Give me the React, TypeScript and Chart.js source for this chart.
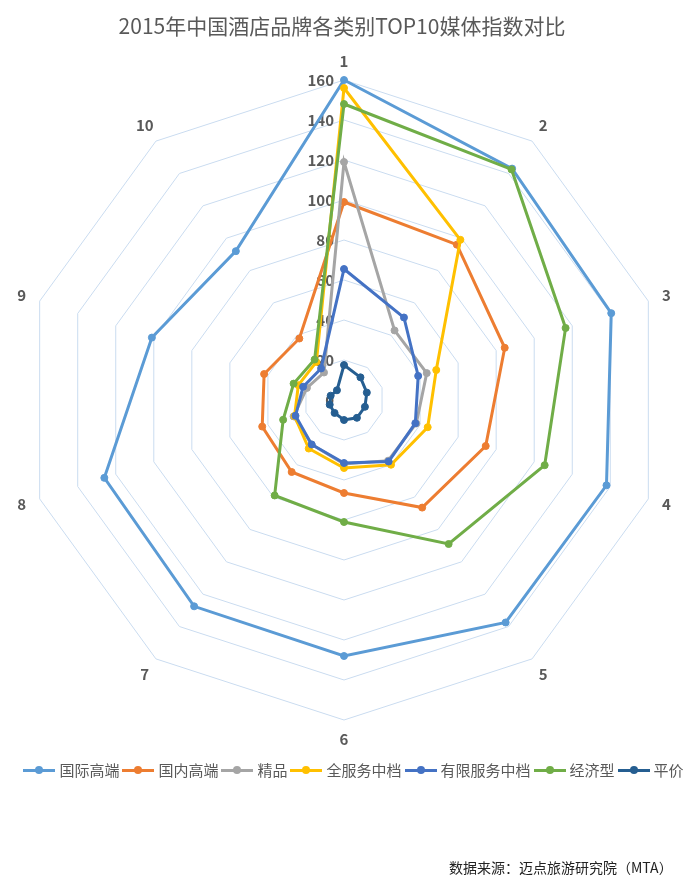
import React, { useEffect, useRef } from 'react';
import { Chart, ChartConfiguration, registerables } from 'chart.js';

Chart.register(...registerables);

const FONT = '"Noto Sans CJK SC", "Noto Sans", sans-serif';

const titleText = '2015年中国酒店品牌各类别TOP10媒体指数对比';
const sourceText = '数据来源：迈点旅游研究院（MTA）';

const categories = ['1', '2', '3', '4', '5', '6', '7', '8', '9', '10'];
const tickValues = [0, 20, 40, 60, 80, 100, 120, 140, 160];

const seriesNames = ['国际高端', '国内高端', '精品', '全服务中档', '有限服务中档', '经济型', '平价'];
const seriesColors = ['#5B9BD5', '#ED7D31', '#A5A5A5', '#FFC000', '#4472C4', '#70AD47', '#255E91'];

const intlHigh = [160, 143, 140.5, 138, 137.5, 128, 127.5, 126, 101, 92];
const domesticHigh = [99, 96, 84.5, 74.5, 66.5, 46.5, 44.5, 43, 42, 38];
const boutique = [119, 43, 43.5, 38, 37.5, 32, 27.5, 26.5, 19.5, 17];
const fullServiceMid = [156, 99, 48.5, 44, 40, 34, 30, 26, 24, 23.5];
const limitedServiceMid = [65.5, 51, 39, 37.5, 38, 31.5, 27.5, 25.5, 21.5, 19.5];
const economy = [148, 142.5, 116.5, 105.5, 89, 61, 59, 32, 26.5, 25];
const budget = [17.5, 14, 12, 11, 11, 10, 8, 7.5, 7, 6];

const seriesValues = [intlHigh, domesticHigh, boutique, fullServiceMid, limitedServiceMid, economy, budget];

// tick numbers left of the vertical axis and the spoke numbers, drawn under the lines
const radarLabels = {
  id: 'radarLabels',
  beforeDatasetsDraw(chart: Chart) {
    const scale: any = chart.scales.r;
    const ctx = chart.ctx;
    ctx.save();
    ctx.fillStyle = '#595959';
    ctx.font = `bold 15px ${FONT}`;
    ctx.textBaseline = 'middle';
    ctx.textAlign = 'right';
    tickValues.forEach(v => {
      const d = scale.getDistanceFromCenterForValue(v);
      ctx.fillText(String(v), scale.xCenter - 10, scale.yCenter - d);
    });
    ctx.textAlign = 'center';
    categories.forEach((c, i) => {
      const p = scale.getPointPosition(i, scale.drawingArea + 19);
      ctx.fillText(c, p.x, p.y);
    });
    ctx.restore();
  }
};

const App: React.FC = () => {
  const chartRef = useRef<HTMLCanvasElement>(null);
  const chartInstanceRef = useRef<Chart | null>(null);

  useEffect(() => {
    if (!chartRef.current) return;
    const ctx = chartRef.current.getContext('2d');
    if (!ctx) return;

    Chart.defaults.font.family = FONT;

    const config: ChartConfiguration = {
      type: 'radar',
      data: {
        labels: categories,
        datasets: seriesNames.map((name, i) => ({
          label: name,
          data: seriesValues[i],
          borderColor: seriesColors[i],
          backgroundColor: seriesColors[i],
          pointBackgroundColor: seriesColors[i],
          pointBorderColor: seriesColors[i],
          pointRadius: 3.5,
          pointBorderWidth: 1,
          borderWidth: 3,
          fill: false,
          order: seriesNames.length - i
        }))
      },
      options: {
        responsive: true,
        maintainAspectRatio: false,
        animation: false,
        layout: {
          padding: { left: 24, top: 80, right: 36, bottom: 167 }
        },
        plugins: {
          legend: { display: false },
          title: { display: false },
          tooltip: { enabled: false }
        },
        scales: {
          r: {
            min: 0,
            max: 160,
            ticks: { stepSize: 20, display: false },
            pointLabels: { display: false },
            angleLines: { display: false },
            grid: { color: '#cadcf0', lineWidth: 1, circular: false }
          }
        }
      },
      plugins: [radarLabels]
    };

    chartInstanceRef.current = new Chart(ctx, config);

    return () => {
      if (chartInstanceRef.current) {
        chartInstanceRef.current.destroy();
        chartInstanceRef.current = null;
      }
    };
  }, []);

  return (
    <div style={{ position: 'absolute', left: 0, top: 0, width: 700, height: 887, background: '#fff', fontFamily: FONT }}>
      <canvas ref={chartRef} />
      <div style={{ position: 'absolute', left: 0, top: 10, width: 684, textAlign: 'center', fontSize: 21, color: '#595959', lineHeight: '30px' }}>
        {titleText}
      </div>
      <div style={{ position: 'absolute', left: 0, top: 760, width: 707, display: 'flex', justifyContent: 'center', fontSize: 15, color: '#595959', lineHeight: '20px' }}>
        {seriesNames.map((name, i) => (
          <div key={name} style={{ display: 'flex', alignItems: 'center', marginRight: i < seriesNames.length - 1 ? 3 : 0 }}>
            <span style={{ position: 'relative', display: 'inline-block', width: 32, height: 3, background: seriesColors[i], marginRight: 4 }}>
              <span style={{ position: 'absolute', left: 12, top: -2.5, width: 8, height: 8, borderRadius: 4, background: seriesColors[i] }} />
            </span>
            <span>{name}</span>
          </div>
        ))}
      </div>
      <div style={{ position: 'absolute', left: 449, top: 857, fontSize: 14, color: '#222', lineHeight: '20px', whiteSpace: 'nowrap' }}>
        {sourceText}
      </div>
    </div>
  );
};

export default App;
